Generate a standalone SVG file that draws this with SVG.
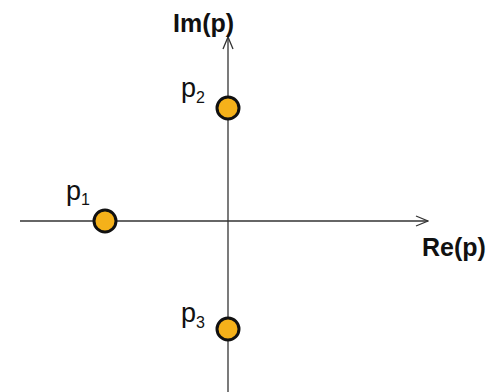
<svg xmlns="http://www.w3.org/2000/svg" width="494" height="392" viewBox="0 0 494 392">
<style>
.ax{stroke:#333;stroke-width:1.3;fill:none}
.pole{fill:#F5B11A;stroke:#111;stroke-width:3}
.lbl{font-family:"Liberation Sans",Arial,sans-serif;fill:#111}
.b{font-weight:bold;font-size:25px}
.p{font-size:27px}
.s{font-size:16px}
</style>
<defs>
<marker id="arr" viewBox="0 0 14 12" refX="13" refY="6" markerWidth="14" markerHeight="12" markerUnits="userSpaceOnUse" orient="auto">
<path d="M1,1 L13,6 L1,11" fill="none" stroke="#333" stroke-width="1.3"/>
</marker>
</defs>
<g id="connectors">
<line class="ax" x1="20" y1="221" x2="428" y2="221" marker-end="url(#arr)"/>
<line class="ax" x1="228" y1="392" x2="228" y2="37" marker-end="url(#arr)"/>
</g>
<g id="im-label"><text class="lbl b" x="173" y="32">Im(p)</text></g>
<g id="re-label"><text class="lbl b" x="422" y="256">Re(p)</text></g>
<g id="p1"><circle class="pole" cx="105" cy="221" r="11"/><text class="lbl p" x="66" y="200">p<tspan class="s" dy="5">1</tspan></text></g>
<g id="p2"><circle class="pole" cx="228" cy="108" r="11"/><text class="lbl p" x="181" y="97">p<tspan class="s" dy="6">2</tspan></text></g>
<g id="p3"><circle class="pole" cx="228" cy="329" r="11"/><text class="lbl p" x="181" y="322">p<tspan class="s" dy="6">3</tspan></text></g>
</svg>
